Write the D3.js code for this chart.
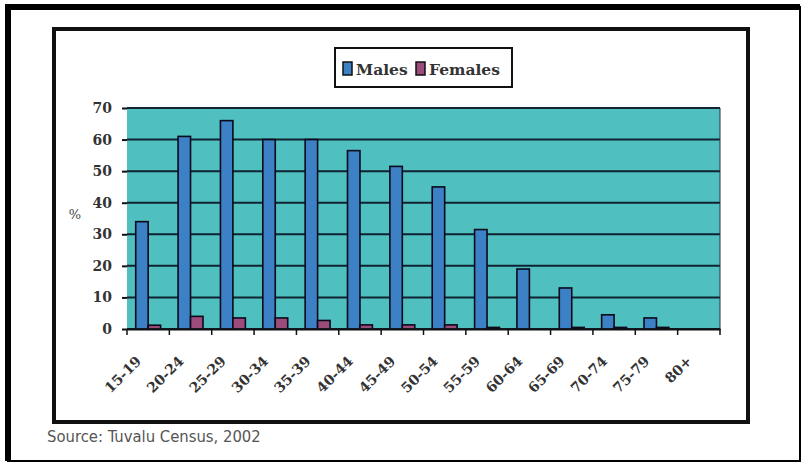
<!DOCTYPE html>
<html>
<head>
<meta charset="utf-8">
<script src="https://cdn.jsdelivr.net/npm/d3@7"></script>
<style>
  body { margin: 0; background: #fff; }
  svg { display: block; }
  .tick text { font-family: "DejaVu Serif", serif; font-weight: bold; fill: #333; }
</style>
</head>
<body>
<script>
'use strict';

// age groups on the x axis
var ageGroups = ["15-19", "20-24", "25-29", "30-34", "35-39", "40-44", "45-49",
                 "50-54", "55-59", "60-64", "65-69", "70-74", "75-79", "80+"];

// percent values
var males   = [34, 61, 66, 60, 60, 56.5, 51.5, 45, 31.5, 19, 13, 4.5, 3.5, 0];
var females = [1.2, 4, 3.5, 3.5, 2.7, 1.3, 1.3, 1.3, 0.5, 0, 0.5, 0.5, 0.5, 0];

var seriesNames = ["Males", "Females"];
var yTicks = [0, 10, 20, 30, 40, 50, 60, 70];

var colors = { Males: "#3c80c6", Females: "#9c4c7a" };

var W = 804, H = 463;
var margin = {top: 108, left: 127},
    width = 720 - margin.left,
    height = 329 - margin.top;

var svg = d3.select("body").append("svg")
    .attr("width", W)
    .attr("height", H);

// outer frame
svg.append("rect").attr("x", 8).attr("y", 7).attr("width", 792).attr("height", 454)
    .attr("fill", "none").attr("stroke", "#000").attr("stroke-width", 2);
svg.append("path").attr("d", "M8,461 V7 H800")
    .attr("fill", "none").attr("stroke", "#000").attr("stroke-width", 6);

// inner box
svg.append("rect").attr("x", 54).attr("y", 29).attr("width", 694).attr("height", 393)
    .attr("fill", "#fff").attr("stroke", "#111").attr("stroke-width", 4);

var g = svg.append("g")
    .attr("transform", "translate(" + margin.left + "," + margin.top + ")");

var xScale = d3.scaleBand()
    .domain(ageGroups)
    .range([0, width]);

var xInner = d3.scaleBand()
    .domain(seriesNames)
    .range([0, xScale.bandwidth()])
    .paddingInner(0)
    .paddingOuter(0.7);

var yScale = d3.scaleLinear()
    .domain([0, 70])
    .range([height, 0]);

// plot background
g.append("rect")
    .attr("width", width)
    .attr("height", height)
    .attr("fill", "#50bfbf");

// gridlines
g.append("g")
    .selectAll("line")
    .data(yTicks)
    .enter()
    .append("line")
    .attr("x1", 0)
    .attr("x2", width)
    .attr("y1", function(d) { return yScale(d); })
    .attr("y2", function(d) { return yScale(d); })
    .attr("stroke", "#123")
    .attr("stroke-width", 2);

g.append("line")
    .attr("x1", width).attr("x2", width)
    .attr("y1", 0).attr("y2", height)
    .attr("stroke", "#234").attr("stroke-width", 1);

// bars
var rows = ageGroups.map(function(a, i) {
    return {age: a, Males: males[i], Females: females[i]};
});

var groups = g.selectAll(".grp")
    .data(rows)
    .enter()
    .append("g")
    .attr("class", "grp")
    .attr("transform", function(d) { return "translate(" + xScale(d.age) + ",0)"; });

groups.selectAll("rect")
    .data(function(d) { return seriesNames.map(function(s) { return {key: s, value: d[s]}; }); })
    .enter()
    .append("rect")
    .filter(function(d) { return d.value > 0; })
    .attr("x", function(d) { return xInner(d.key); })
    .attr("width", xInner.bandwidth())
    .attr("y", function(d) { return yScale(d.value); })
    .attr("height", function(d) { return height - yScale(d.value); })
    .attr("fill", function(d) { return colors[d.key]; })
    .attr("stroke", "#0a0a1a")
    .attr("stroke-width", 1.6);

// x axis
var xAxis = g.append("g")
    .attr("transform", "translate(0," + height + ")")
    .call(d3.axisBottom(xScale).tickSize(0).tickFormat(""));
xAxis.select(".domain").attr("stroke", "#111").attr("stroke-width", 2);

g.append("g")
    .selectAll("line")
    .data(ageGroups.concat(["end"]))
    .enter()
    .append("line")
    .attr("x1", function(d) { return d === "end" ? width : xScale(d); })
    .attr("x2", function(d) { return d === "end" ? width : xScale(d); })
    .attr("y1", height)
    .attr("y2", height + 6)
    .attr("stroke", "#111")
    .attr("stroke-width", 1.5);

g.append("g")
    .selectAll("text")
    .data(ageGroups)
    .enter()
    .append("text")
    .attr("class", "xlab")
    .attr("transform", function(d) {
        return "translate(" + (xScale(d) + xScale.bandwidth() / 2 - 6) + "," + (height + 33) + ") rotate(-45)";
    })
    .attr("text-anchor", "end")
    .style("font-family", "DejaVu Serif, serif")
    .style("font-weight", "bold")
    .style("font-size", "14px")
    .style("fill", "#333")
    .text(function(d) { return d; });

// y axis
var yAxis = g.append("g")
    .call(d3.axisLeft(yScale).tickValues(yTicks).tickSize(5).tickPadding(10));
yAxis.select(".domain").remove();
yAxis.selectAll(".tick line").attr("stroke", "#111").attr("stroke-width", 2);
yAxis.selectAll(".tick text").style("font-size", "14px");

g.append("text")
    .attr("x", -52)
    .attr("y", yScale(35))
    .attr("text-anchor", "middle")
    .style("font-family", "DejaVu Serif, serif")
    .style("font-size", "13px")
    .style("fill", "#444")
    .text("%");

// legend
var legend = svg.append("g").attr("transform", "translate(335,48)");
legend.append("rect")
    .attr("width", 177).attr("height", 39)
    .attr("fill", "#fff").attr("stroke", "#111").attr("stroke-width", 2);

var legX = [8, 81];
seriesNames.forEach(function(s, i) {
    legend.append("rect")
        .attr("x", legX[i]).attr("y", 14)
        .attr("width", 9).attr("height", 13)
        .attr("fill", colors[s]).attr("stroke", "#111").attr("stroke-width", 1.5);
    legend.append("text")
        .attr("x", legX[i] + 13).attr("y", 27)
        .style("font-family", "DejaVu Serif, serif")
        .style("font-weight", "bold")
        .style("font-size", "15.5px")
        .style("fill", "#333")
        .text(s);
});

// source
svg.append("text")
    .attr("x", 47).attr("y", 442)
    .style("font-family", "DejaVu Sans Condensed, DejaVu Sans, sans-serif")
    .style("font-stretch", "condensed")
    .style("font-size", "16.5px")
    .style("fill", "#555")
    .text("Source: Tuvalu Census, 2002");
</script>
</body>
</html>
